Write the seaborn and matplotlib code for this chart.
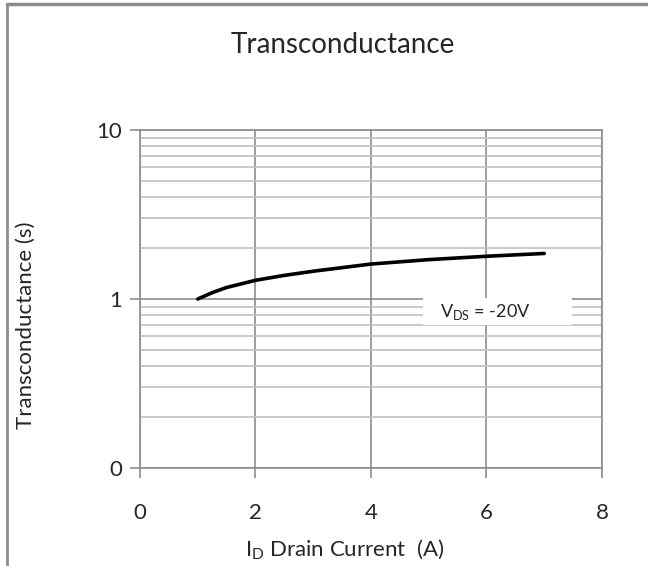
import matplotlib
matplotlib.use("Agg")
import matplotlib.pyplot as plt
import matplotlib.ticker as mticker
from matplotlib.lines import Line2D
from matplotlib.patches import Rectangle
import seaborn as sns
import pandas as pd

# Data
drain_current = [1.0, 1.25, 1.5, 2.0, 2.5, 3.0, 4.0, 5.0, 6.0, 7.0]
transconductance = [1.00, 1.09, 1.17, 1.29, 1.38, 1.46, 1.61, 1.71, 1.79, 1.86]
x_ticks = [0, 2, 4, 6, 8]
y_ticks = [0.1, 1, 10]
y_tick_labels = ["0", "1", "10"]

sns.set_theme(style="white")
plt.rcParams["font.family"] = ["Lato", "DejaVu Sans"]

df = pd.DataFrame({"Id": drain_current, "gfs": transconductance})

fig = plt.figure(figsize=(6.48, 5.66), dpi=100)
ax = fig.add_axes([140 / 648, 1 - 468 / 566, (602 - 140) / 648, (468 - 130) / 566])

sns.lineplot(data=df, x="Id", y="gfs", ax=ax, color="black", linewidth=2.6, zorder=5)

ax.set_yscale("log")
ax.set_xlim(0, 8)
ax.set_ylim(0.1, 10)
ax.set_xticks(x_ticks)
ax.set_xticklabels([str(v) for v in x_ticks])
ax.yaxis.set_major_locator(mticker.FixedLocator(y_ticks))
ax.yaxis.set_major_formatter(mticker.FixedFormatter(y_tick_labels))
ax.yaxis.set_minor_locator(mticker.LogLocator(base=10, subs=range(2, 10)))
ax.yaxis.set_minor_formatter(mticker.NullFormatter())

ax.grid(True, which="major", axis="both", color="#8c8c8c", linewidth=1.2)
ax.grid(True, which="minor", axis="y", color="#c0c0c0", linewidth=1.2)
ax.set_axisbelow(True)

for s in ax.spines.values():
    s.set_color("#8c8c8c")
    s.set_linewidth(1.2)

ax.tick_params(axis="both", which="major", direction="out", length=7, width=1.2,
               color="#8c8c8c", labelsize=16, left=True, bottom=True)
ax.tick_params(axis="x", which="major", pad=18)
ax.tick_params(axis="y", which="major", pad=6)
ax.tick_params(axis="y", which="minor", length=0)

ax.set_xlabel("")
ax.set_ylabel("")

fig.text(343 / 648, 1 - 45 / 566, "Transconductance", ha="center", va="center", fontsize=20)
fig.text(26 / 648, 1 - 325 / 566, "Transconductance (s)", ha="center", va="center",
         rotation=90, fontsize=16)
fig.text(345 / 648, 1 - 550 / 566, r"I$_\mathregular{D}$ Drain Current  (A)", ha="center",
         va="center", fontsize=16)

# legend-like annotation box
ax.add_patch(Rectangle((0.6126, 0.423), 0.3224, 0.080, transform=ax.transAxes,
                       facecolor="white", edgecolor="none", zorder=4))
ax.text(0.747, 0.462, r"V$_\mathregular{DS}$ = -20V", transform=ax.transAxes,
        ha="center", va="center", fontsize=13, zorder=6)

# figure frame lines (top and left)
fig.add_artist(Line2D([7 / 648, 1], [1 - 4 / 566, 1 - 4 / 566], color="#8c8c8c",
                      linewidth=2.5, transform=fig.transFigure))
fig.add_artist(Line2D([7 / 648, 7 / 648], [0, 1 - 4 / 566], color="#8c8c8c",
                      linewidth=2.0, transform=fig.transFigure))

fig.savefig("out.png", dpi=100)
